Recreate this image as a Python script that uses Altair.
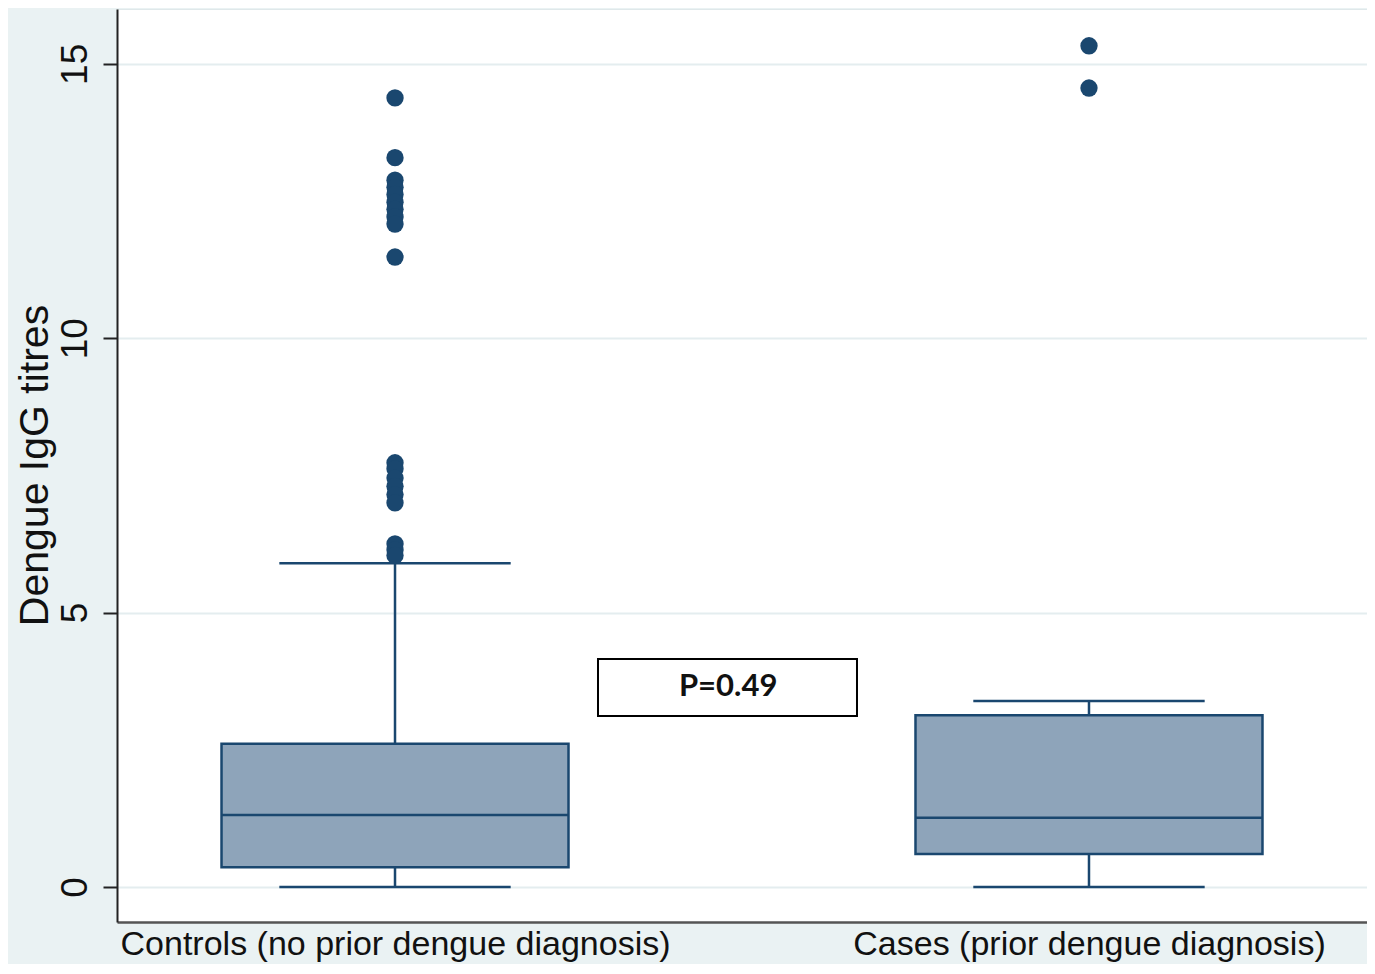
import altair as alt
import pandas as pd

# ---------------- data ----------------
groups = ["Controls (no prior dengue diagnosis)", "Cases (prior dengue diagnosis)"]
positions = [1, 2]
whisker_low = [0.0, 0.0]
q1 = [0.36, 0.60]
median = [1.31, 1.26]
q3 = [2.61, 3.13]
whisker_high = [5.90, 3.39]
control_outliers = [14.38, 13.29, 12.88, 12.75, 12.62, 12.48, 12.35, 12.21, 12.08, 11.48,
                    7.73, 7.62, 7.45, 7.30, 7.15, 7.00, 6.25, 6.14, 6.04]
case_outliers = [15.33, 14.56]
p_label = "P=0.49"
y_ticks = [0, 5, 10, 15]
y_title = "Dengue IgG titres"

# ---------------- style ----------------
NAVY = "#1a476f"
FILL = "#8ea4ba"
BG = "#eaf2f3"
BOX_HALF = 0.25
CAP_HALF = 0.1667
FONT = "Liberation Sans"

stats = pd.DataFrame({"group": groups, "pos": positions, "lo": whisker_low, "q1": q1,
                      "med": median, "q3": q3, "hi": whisker_high})
outl = pd.DataFrame({
    "pos": [positions[0]] * len(control_outliers) + [positions[1]] * len(case_outliers),
    "value": control_outliers + case_outliers,
})

label_expr = "datum.value == {} ? '{}' : '{}'".format(positions[0], groups[0], groups[1])

xscale = alt.Scale(domain=[0.5994, 2.4006], nice=False, zero=False)
yscale = alt.Scale(domain=[-0.64, 16.0], nice=False, zero=False)

x_axis = alt.Axis(values=positions, labelExpr=label_expr, ticks=False, grid=False,
                  domainColor="#555555", domainWidth=2.5, labelFontSize=34, labelFont=FONT,
                  labelColor="#111111", labelPadding=5, labelFlush=False, labelOverlap=False,
                  labelLimit=0, labelBaseline="top", title=None)
y_axis = alt.Axis(values=y_ticks, labelAngle=270, labelAlign="center", labelBaseline="bottom",
                  labelPadding=9, labelFontSize=37, labelFont=FONT, labelColor="#111111",
                  tickSize=14, tickColor="#222222", tickWidth=2,
                  domainColor="#222222", domainWidth=2,
                  grid=True, gridColor="#e4edef", gridWidth=2,
                  title=y_title, titleFont=FONT, titleFontSize=41, titleFontWeight="normal",
                  titleColor="#111111", titleAngle=270, titleBaseline="middle",
                  titleX=-82, titleY=456)


def X(field):
    return alt.X(field, type="quantitative", scale=xscale, axis=x_axis, title=None)


def Y(field):
    return alt.Y(field, type="quantitative", scale=yscale, axis=y_axis, title=y_title)


base = alt.Chart(stats).transform_calculate(
    xl=f"datum.pos - {BOX_HALF}", xr=f"datum.pos + {BOX_HALF}",
    cl=f"datum.pos - {CAP_HALF}", cr=f"datum.pos + {CAP_HALF}",
)

stem = base.mark_rule(color=NAVY, strokeWidth=2.5).encode(x=X("pos"), y=Y("lo"), y2="hi")
box = base.mark_rect(fill=FILL, stroke=NAVY, strokeWidth=2.5).encode(
    x=X("xl"), x2="xr", y=Y("q1"), y2="q3")
med = base.mark_rule(color=NAVY, strokeWidth=2.5).encode(x=X("xl"), x2="xr", y=Y("med"))
cap_hi = base.mark_rule(color=NAVY, strokeWidth=2.5).encode(x=X("cl"), x2="cr", y=Y("hi"))
cap_lo = base.mark_rule(color=NAVY, strokeWidth=2.5).encode(x=X("cl"), x2="cr", y=Y("lo"))

points = alt.Chart(outl).mark_circle(color=NAVY, opacity=1, size=300).encode(
    x=X("pos"), y=Y("value"))

ann_df = pd.DataFrame({"label": [p_label]})
ann_box = alt.Chart(ann_df).mark_rect(fill="white", stroke="black", strokeWidth=2).encode(
    x=alt.X(datum=1.2925, type="quantitative", scale=xscale, axis=x_axis, title=None),
    x2=alt.X2(datum=1.6657),
    y=alt.Y(datum=4.155, type="quantitative", scale=yscale, axis=y_axis, title=y_title),
    y2=alt.Y2(datum=3.116),
)
ann_text = alt.Chart(ann_df).mark_text(font="Lato", fontWeight="bold", fontSize=31,
                                       color="#111111", baseline="middle", align="center").encode(
    x=alt.X(datum=1.480, type="quantitative", scale=xscale, axis=x_axis, title=None),
    y=alt.Y(datum=3.64, type="quantitative", scale=yscale, axis=y_axis, title=y_title),
    text="label:N",
)

chart = alt.layer(stem, box, med, cap_hi, cap_lo, points, ann_box, ann_text).properties(
    width=1250, height=913,
    autosize=alt.AutoSizeParams(type="none"),
    padding={"left": 109, "top": 1, "right": 0, "bottom": 42},
    background=BG,
).configure_view(fill="white", stroke="#dfe8ea", strokeWidth=1)

chart.save("out.html", embed_options={"renderer": "svg", "actions": False})
